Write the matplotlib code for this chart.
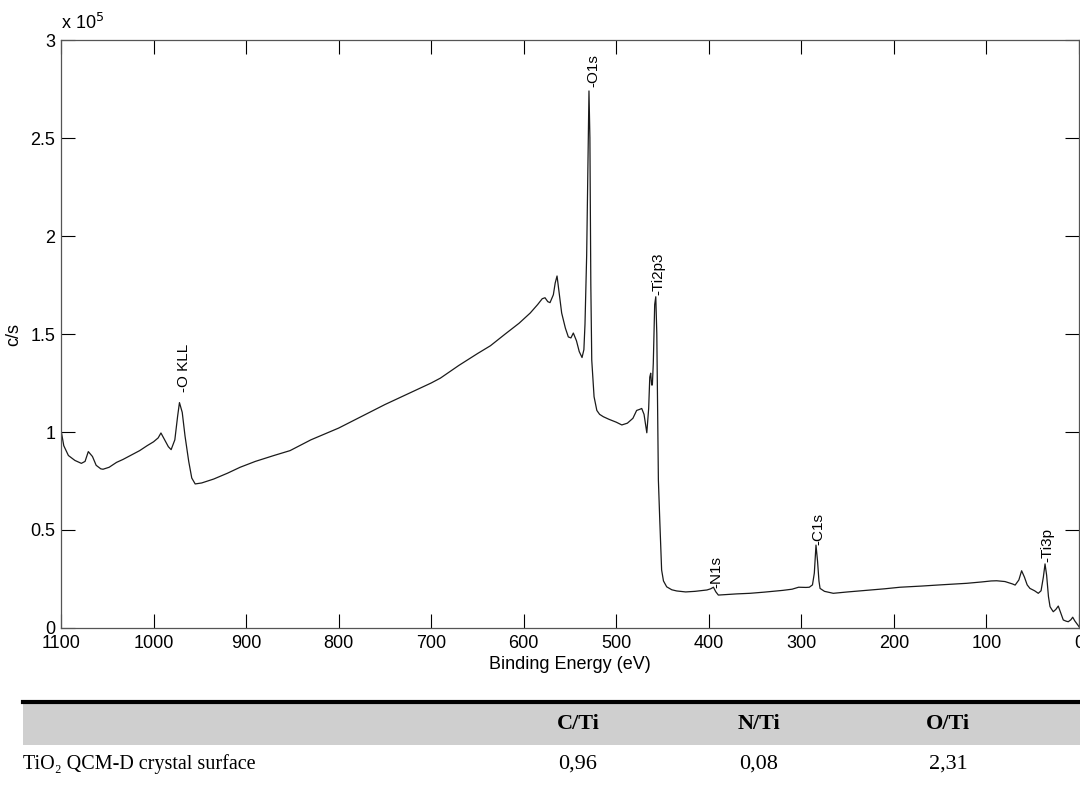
import matplotlib
matplotlib.use("Agg")
import matplotlib.pyplot as plt
from matplotlib.patches import Rectangle
from matplotlib.lines import Line2D
import numpy as np

# Binding energy (eV) and intensity (c/s)
energy = [1100, 1097, 1092, 1085, 1078, 1074, 1070.5, 1066, 1062, 1057, 1054.6, 1048, 1040, 1033,
          1025, 1015, 1007, 1000, 995, 992, 988, 984, 981, 977, 974, 972, 969, 966, 962, 958.7,
          955, 948, 935, 920, 906.5, 890, 870, 852.5, 830, 800, 775, 750, 725, 700, 690,
          670, 650, 636, 620, 605, 593, 585, 580, 577, 574, 571.6, 568, 566, 564, 562, 559,
          555, 551.8, 549, 546.4, 543, 540, 537, 535, 533.8, 532, 530.5, 529.5, 528.5, 527.5,
          526.5, 524, 521, 518, 514, 508, 500, 494, 488, 482, 478, 475, 472.5, 470, 467,
          465, 463.8, 462.8, 461.8, 461, 460, 458.5, 457.3, 456.2, 455.3, 454.5, 453, 451,
          449, 445.5, 440, 434.7, 425, 415, 402, 398, 395, 392.5, 389.7, 380, 370, 355.5,
          340, 320, 310, 303, 295, 291.4, 288, 286, 284.2, 282.5, 281, 279.8, 275, 265.5,
          250, 230, 210, 193.4, 170, 150, 121.3, 105, 95, 89, 80, 72, 69, 65, 62, 59, 56,
          53, 48, 44, 41, 38.5, 36.7, 35, 33, 31.3, 29.5, 27.8, 25, 22.4, 20, 17, 14,
          11.6, 8.8, 6.8, 4.5, 2, 0]
counts = [101000, 93000, 88000, 85500, 84000, 85000, 90000, 87500, 83000, 81200, 81000, 82000, 84500, 86000,
          88000, 90500, 93000, 95000, 97000, 99500, 96000, 92500, 91000, 96000, 108000, 115000, 110000, 98000, 85000, 76500,
          73500, 74000, 76000, 79000, 82000, 85000, 88000, 90500, 96000, 102000, 108000, 114000, 119500, 125000, 127500,
          134000, 140000, 144000, 150000, 155500, 160700, 165000, 168000, 168500, 166500, 166000, 170000, 176000, 179600, 172000, 160700,
          153000, 148500, 148000, 150500, 146500, 141000, 138000, 142000, 155000, 190000, 240000, 274000, 250000, 175000,
          136700, 118000, 111000, 109000, 107800, 106500, 105000, 103600, 104500, 107000, 111000, 111500, 112000, 109000, 99600,
          112000, 128000, 130000, 124000, 124000, 135000, 165000, 169000, 150000, 110000, 75500, 55000, 29600,
          24000, 21000, 19500, 18900, 18400, 18700, 19400, 20000, 20800, 18500, 16800, 17100, 17400, 17700,
          18300, 19200, 19800, 20800, 20700, 20800, 22000, 28000, 42300, 34000, 24000, 20200, 18700, 17700,
          18400, 19200, 20000, 20800, 21400, 22000, 22800, 23500, 24000, 24100, 23700, 22500, 21900, 24500, 29200, 26000, 22000,
          20200, 19000, 17700, 19000, 26000, 32700, 27000, 16000, 10900, 9500, 8300, 9500, 11200, 8000, 4100, 3500,
          3200, 4200, 5500, 3600, 2000, 700]

# Peak labels: (text, energy, intensity at the label base)
peak_labels = ["-O KLL", "-O1s", "-Ti2p3", "-N1s", "-C1s", "-Ti3p"]
peak_pos = [967, 525, 454.5, 392, 282, 34.5]
peak_int = [120500, 276000, 170000, 20500, 42500, 33500]

# Table content
table_cols = ["C/Ti", "N/Ti", "O/Ti"]
table_row_label = "TiO\u2082 QCM-D crystal surface"
table_vals = ["0,96", "0,08", "2,31"]

W, H = 1080, 785
fig = plt.figure(figsize=(W / 100, H / 100), dpi=100)
sans = ["Liberation Sans", "DejaVu Sans"]
serif = ["Liberation Serif", "DejaVu Serif"]

ax = fig.add_axes([61 / W, 1 - 628 / H, (1079 - 61) / W, (628 - 40) / H])
ax.plot(np.array(energy), np.array(counts) / 1e5, color="#1a1a1a", lw=0.9)
ax.set_xlim(1100, 0)
ax.set_ylim(0, 3)
ax.set_xticks(np.arange(1100, -1, -100))
ax.set_yticks([0, 0.5, 1, 1.5, 2, 2.5, 3])
ax.set_yticklabels(["0", "0.5", "1", "1.5", "2", "2.5", "3"])
ax.tick_params(direction="in", length=10, width=0.8, top=True, right=True,
               labelsize=13, colors="#000000", pad=4)
ax.tick_params(axis="x", pad=5)
for lab in ax.get_xticklabels() + ax.get_yticklabels():
    lab.set_fontfamily(sans)
for s in ax.spines.values():
    s.set_color("#555555")
    s.set_linewidth(0.9)
ax.set_xlabel("Binding Energy (eV)", fontsize=13, family=sans, labelpad=3)
ax.set_ylabel("c/s", fontsize=13, family=sans, labelpad=6)
ax.text(0.0, 1.012, r"x 10$^{5}$", transform=ax.transAxes, fontsize=13,
        family=sans, ha="left", va="bottom")

for t, e, c in zip(peak_labels, peak_pos, peak_int):
    ax.text(e, c / 1e5, t, rotation=90, ha="center", va="bottom", fontsize=11, family=sans)

# Table below the chart
x0 = 23 / W
fig.add_artist(Rectangle((x0, 1 - 745 / H), 1 - x0, (745 - 702) / H, transform=fig.transFigure,
                         facecolor="#cfcfcf", edgecolor="none"))
fig.add_artist(Line2D([x0, 1], [1 - 701.5 / H, 1 - 701.5 / H], transform=fig.transFigure,
                      color="black", lw=3))
col_x = [578, 759, 948]
for cx, name, v in zip(col_x, table_cols, table_vals):
    fig.text(cx / W, 1 - 724 / H, name, ha="center", va="center", fontsize=16,
             fontweight="bold", family=serif)
    fig.text(cx / W, 1 - 764 / H, v, ha="center", va="center", fontsize=16, family=serif)
fig.text(x0, 1 - 764 / H, table_row_label, ha="left", va="center", fontsize=14.5, family=serif)

fig.savefig("out.png", dpi=100)
